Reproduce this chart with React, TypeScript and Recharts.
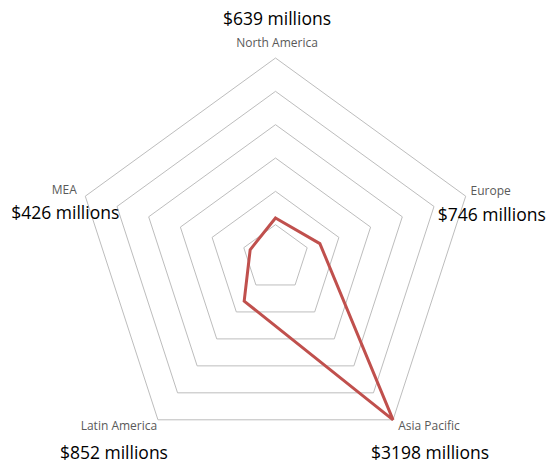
import {
  RadarChart,
  Radar,
  PolarGrid,
  PolarAngleAxis,
  PolarRadiusAxis,
} from "recharts";

const REGIONS = ["North America", "Europe", "Asia Pacific", "Latin America", "MEA"];
const REVENUE = [639, 746, 3198, 852, 426];
const VALUE_LABELS = ["$639 millions", "$746 millions", "$3198 millions", "$852 millions", "$426 millions"];

const RADIUS_MAX = 3198;
const RING_COUNT = 6;

const W = 547;
const H = 466;
const CX = 275.5;
const CY = 258;
const OUTER = 200;

// label offsets from each outer vertex: [name dx, name dy, value dx, value dy]
const LABEL_OFFSETS = [
  [1.5, -11, 1.5, -33],
  [25, -1, 26, 25],
  [36, 10, 37, 39],
  [-39, 10, -44, 39],
  [-21, -2, -20, 23],
];

const data = REGIONS.map((region, i) => ({ region, value: REVENUE[i] }));
const rings = Array.from({ length: RING_COUNT }, (_, k) => (OUTER * (k + 1)) / RING_COUNT);

function RegionTick(props: any) {
  const name = props.payload?.value;
  const i = REGIONS.indexOf(name);
  if (i < 0) return null;
  const a = ((90 - i * (360 / REGIONS.length)) * Math.PI) / 180;
  const vx = CX + OUTER * Math.cos(a);
  const vy = CY - OUTER * Math.sin(a);
  const [ndx, ndy, tdx, tdy] = LABEL_OFFSETS[i];
  return (
    <g>
      <text
        x={vx + ndx}
        y={vy + ndy}
        textAnchor="middle"
        fontSize={12}
        fill="#595959"
        fontFamily="Open Sans, sans-serif"
      >
        {name}
      </text>
      <text
        x={vx + tdx}
        y={vy + tdy}
        textAnchor="middle"
        fontSize={17.5}
        fill="#000"
        fontFamily="Open Sans, sans-serif"
      >
        {VALUE_LABELS[i]}
      </text>
    </g>
  );
}

export default function App() {
  return (
    <div style={{ width: W, height: H, background: "#fff" }}>
      <style>{`body{margin:0}`}</style>
      <RadarChart
        width={W}
        height={H}
        data={data}
        cx={CX}
        cy={CY}
        outerRadius={OUTER}
        margin={{ top: 0, right: 0, bottom: 0, left: 0 }}
      >
        <PolarGrid
          gridType="polygon"
          radialLines={false}
          polarRadius={rings}
          stroke="#bdbdbd"
          strokeWidth={1}
        />
        <PolarAngleAxis
          dataKey="region"
          tick={<RegionTick />}
          axisLine={false}
          tickLine={false}
        />
        <PolarRadiusAxis
          domain={[0, RADIUS_MAX]}
          tick={false}
          axisLine={false}
        />
        <Radar
          dataKey="value"
          stroke="#c0504d"
          strokeWidth={3}
          fill="none"
          fillOpacity={0}
          dot={false}
          isAnimationActive={false}
        />
      </RadarChart>
    </div>
  );
}
